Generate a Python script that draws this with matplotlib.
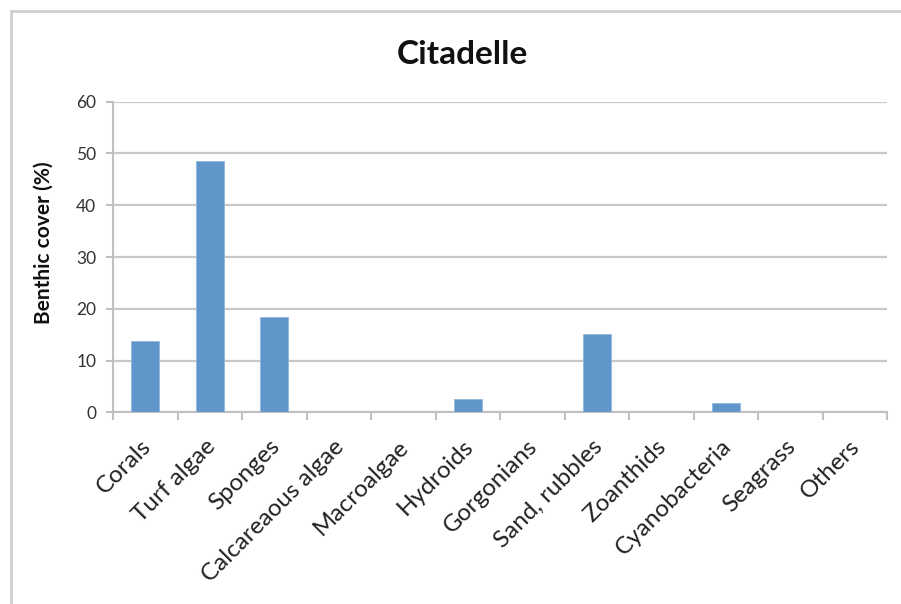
import matplotlib
matplotlib.use("Agg")
import matplotlib.pyplot as plt
from matplotlib.lines import Line2D
from matplotlib.transforms import ScaledTranslation
import numpy as np

categories = ["Corals", "Turf algae", "Sponges", "Calcareaous algae", "Macroalgae",
              "Hydroids", "Gorgonians", "Sand, rubbles", "Zoanthids",
              "Cyanobacteria", "Seagrass", "Others"]
cover = [13.8, 48.5, 18.4, 0, 0, 2.5, 0, 15.1, 0, 1.7, 0, 0]
yticks = [0, 10, 20, 30, 40, 50, 60]

plt.rcParams["font.family"] = ["Lato", "DejaVu Sans"]

fig = plt.figure(figsize=(9.01, 6.04), dpi=100)
ax = fig.add_axes([113 / 901, 1 - 412.3 / 604, 774 / 901, 310.6 / 604])

x = np.arange(len(categories))
ax.bar(x, cover, width=0.43, color="#6096c9", edgecolor="#8fb6dd", linewidth=0.6, zorder=3)

ax.set_xlim(-0.5, len(categories) - 0.5)
ax.set_ylim(0, 60)
ax.set_yticks(yticks)
ax.set_yticklabels([str(t) for t in yticks], fontsize=12.5, color="#333333")
ax.yaxis.grid(True, color="#c8c8c8", linewidth=1.6, zorder=0)
ax.set_axisbelow(True)

# ticks sit at the category boundaries
ax.set_xticks(np.arange(-0.5, len(categories), 1.0))
ax.set_xticklabels([])
ax.tick_params(axis="x", which="major", length=6, width=1.5, color="#c0c0c0")
ax.tick_params(axis="y", length=5, width=1.5, color="#c0c0c0", pad=7)

# rotated category labels, right end just below each bar
label_tf = ax.get_xaxis_transform() + ScaledTranslation(0.02, -0.31, fig.dpi_scale_trans)
for xi, name in zip(x, categories):
    ax.text(xi, 0, name, transform=label_tf, rotation=45, rotation_mode="anchor",
            ha="right", va="center", fontsize=17.5, color="#222222")

for side in ["top", "right"]:
    ax.spines[side].set_visible(False)
for side in ["left", "bottom"]:
    ax.spines[side].set_color("#c0c0c0")
    ax.spines[side].set_linewidth(1.5)

fig.text(44 / 901, 1 - 242.5 / 604, "Benthic cover (%)", rotation=90, ha="center",
         va="center", fontsize=15, fontweight="bold", color="#111111")

fig.text(462 / 901, 1 - 55 / 604, "Citadelle", ha="center", va="center",
         fontsize=24, fontweight="bold", color="#111111")

# chart frame
fig.add_artist(Line2D([11 / 901, 11 / 901], [0, 1 - 11 / 604], transform=fig.transFigure,
                      color="#d0d0d0", linewidth=2))
fig.add_artist(Line2D([11 / 901, 1], [1 - 11 / 604, 1 - 11 / 604], transform=fig.transFigure,
                      color="#d0d0d0", linewidth=2))

fig.savefig("out.png", dpi=100)
